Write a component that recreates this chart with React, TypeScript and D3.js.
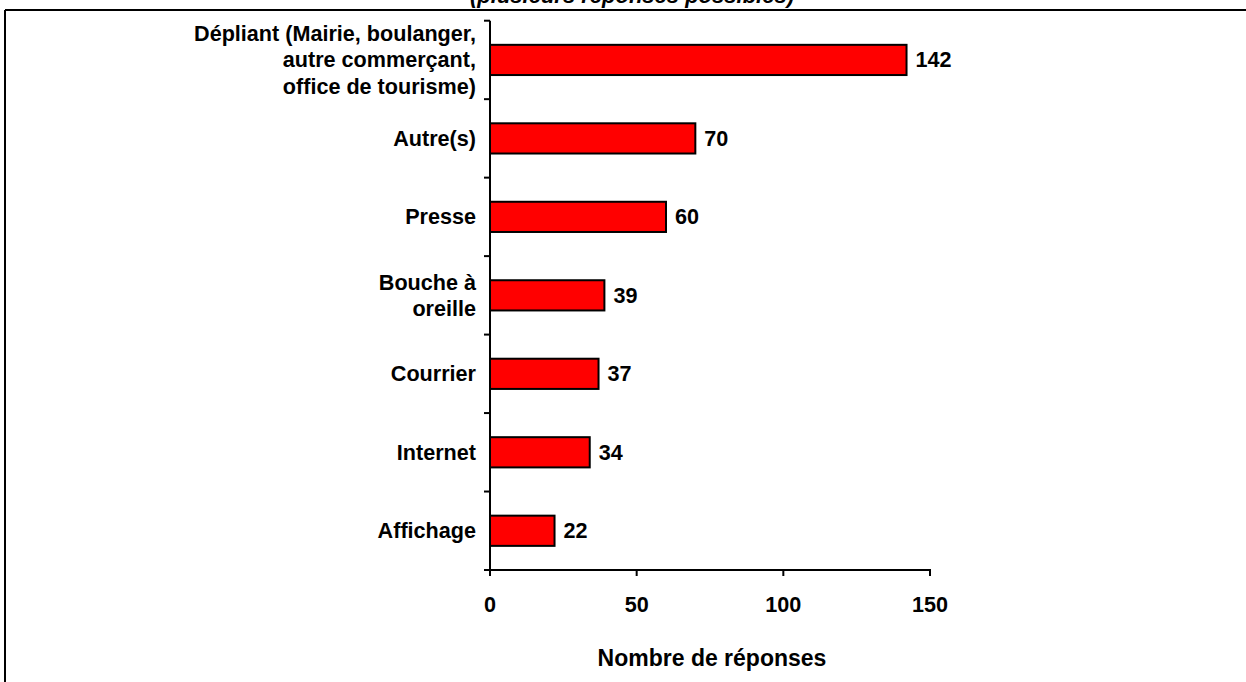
import React from "react";
import * as d3 from "d3";

const categories: string[][] = [
  ["Dépliant (Mairie, boulanger,", "autre commerçant,", "office de tourisme)"],
  ["Autre(s)"],
  ["Presse"],
  ["Bouche à", "oreille"],
  ["Courrier"],
  ["Internet"],
  ["Affichage"],
];
const values: number[] = [142, 70, 60, 39, 37, 34, 22];
const xTicks: number[] = [0, 50, 100, 150];
const title = "(plusieurs réponses possibles)";
const xTitle = "Nombre de réponses";

export default function App() {
  const W = 1246, H = 682;
  const x = d3.scaleLinear().domain([0, 150]).range([490, 930]);
  const idx = categories.map((_, i) => String(i));
  const y = d3.scaleBand().domain(idx).range([20.7, 570]).paddingInner(0).paddingOuter(0);
  const bw = y.bandwidth();
  const barH = bw * 0.385;
  const font = "'Liberation Sans', Arial, sans-serif";
  const lineH = 26.5;
  const fs = 21.6;
  const yTickPos = [...idx.map((k) => y(k)!), 570];
  return (
    <svg width={W} height={H} style={{ position: "absolute", left: 0, top: 0, background: "#fff" }} fontFamily={font}>
      <rect x={0} y={0} width={W} height={H} fill="#fff" />
      {/* frame */}
      <line x1={5} x2={W} y1={10} y2={10} stroke="#000" strokeWidth={2} />
      <line x1={5} x2={5} y1={10} y2={H} stroke="#000" strokeWidth={2} />
      <text x={632} y={3} textAnchor="middle" fontSize={22} fontWeight="bold" fontStyle="italic">{title}</text>
      {/* bars */}
      {values.map((v, i) => {
        const cy = y(String(i))! + bw / 2;
        return (
          <g key={i}>
            <rect x={x(0)} y={cy - barH / 2} width={x(v) - x(0)} height={barH} fill="#FF0000" stroke="#000" strokeWidth={2} />
            <text x={x(v) + 9} y={cy + 7.5} fontSize={fs} fontWeight="bold">{v}</text>
          </g>
        );
      })}
      {/* y axis */}
      <line x1={490} x2={490} y1={20.7} y2={571} stroke="#000" strokeWidth={2} />
      {yTickPos.map((t, i) => (
        <line key={i} x1={484} x2={490} y1={t} y2={t} stroke="#000" strokeWidth={2} />
      ))}
      {categories.map((lines, i) => {
        const cy = y(String(i))! + bw / 2;
        const start = cy - ((lines.length - 1) * lineH) / 2;
        return (
          <text key={i} textAnchor="end" fontSize={fs} fontWeight="bold">
            {lines.map((l, j) => (
              <tspan key={j} x={476} y={start + j * lineH + 7.5}>{l}</tspan>
            ))}
          </text>
        );
      })}
      {/* x axis */}
      <line x1={484} x2={931} y1={570} y2={570} stroke="#000" strokeWidth={2} />
      {xTicks.map((t) => (
        <g key={t}>
          <line x1={x(t)} x2={x(t)} y1={570} y2={576} stroke="#000" strokeWidth={2} />
          <text x={x(t)} y={612} textAnchor="middle" fontSize={fs} fontWeight="bold">{t}</text>
        </g>
      ))}
      <text x={712} y={666} textAnchor="middle" fontSize={23} fontWeight="bold">{xTitle}</text>
    </svg>
  );
}
